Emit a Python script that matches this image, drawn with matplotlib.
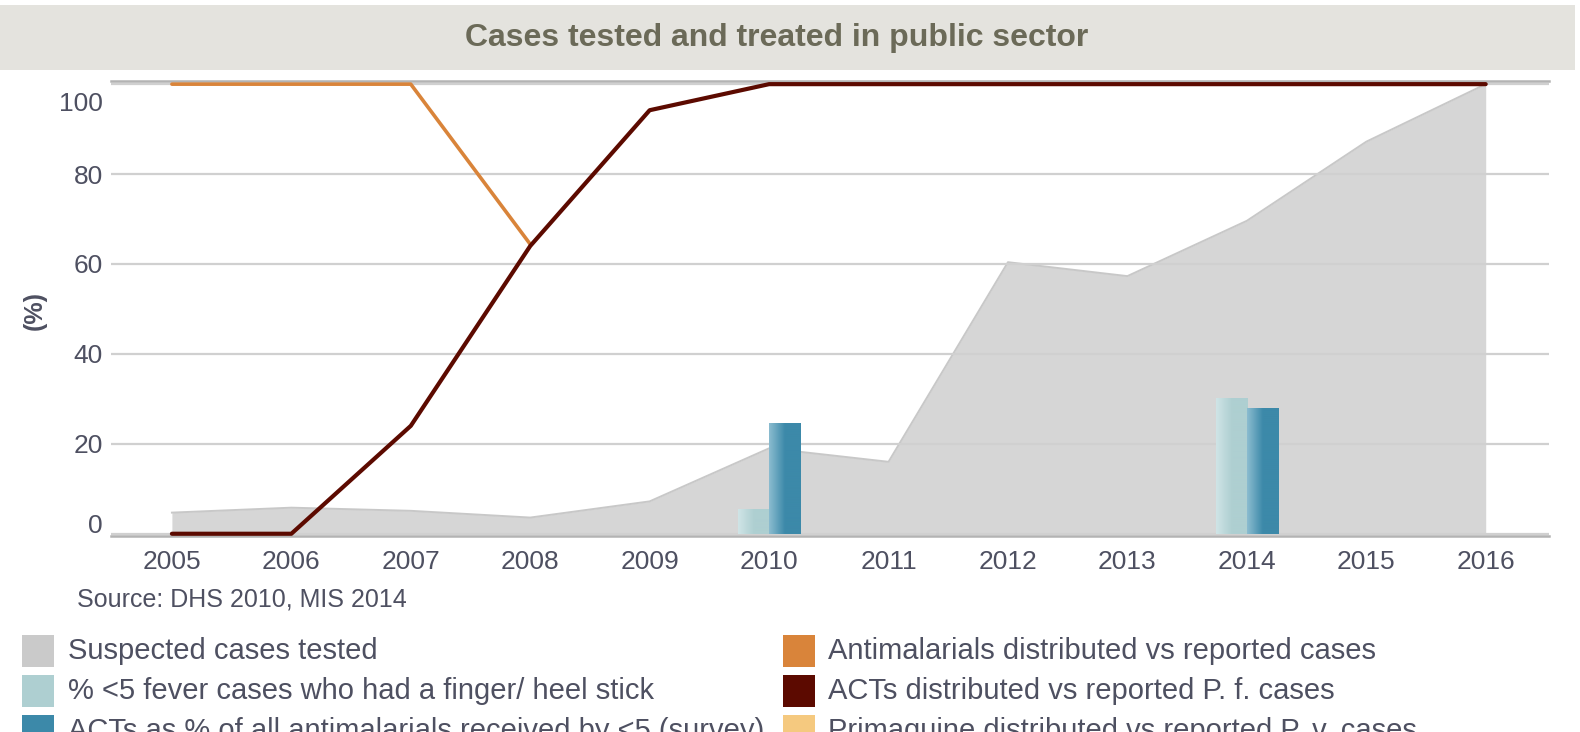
import matplotlib
matplotlib.use("Agg")
import matplotlib.pyplot as plt
import numpy as np
from matplotlib.patches import Rectangle
from matplotlib.colors import LinearSegmentedColormap
import matplotlib.transforms as mtransforms

# ---------------- data ----------------
years = [2005, 2006, 2007, 2008, 2009, 2010, 2011, 2012, 2013, 2014, 2015, 2016]
suspected_tested = [4.7, 5.8, 5.1, 3.6, 7.2, 19.0, 16.0, 60.4, 57.3, 69.6, 87.2, 100.0]
antimalarial_years = [2005, 2006, 2007, 2008]
antimalarials_vs_cases = [100.0, 100.0, 100.0, 64.4]
acts_vs_pf = [0.0, 0.0, 24.0, 64.0, 94.2, 100.0, 100.0, 100.0, 100.0, 100.0, 100.0, 100.0]
survey_years = [2010, 2014]
finger_stick = [5.6, 30.3]
acts_pct_survey = [24.7, 27.9]
yticks = [0, 20, 40, 60, 80, 100]

title = "Cases tested and treated in public sector"
source = "Source: DHS 2010, MIS 2014"
legend_left = ["Suspected cases tested",
               "% <5 fever cases who had a finger/ heel stick",
               "ACTs as % of all antimalarials received by <5 (survey)"]
legend_right = ["Antimalarials distributed vs reported cases",
                "ACTs distributed vs reported P. f. cases",
                "Primaquine distributed vs reported P. v. cases"]

# ---------------- styles ----------------
C_AREA = "#d6d6d6"
C_AREA_EDGE = "#c8c8c8"
C_LIGHT = "#aecfd1"
C_DARK = "#3c89a9"
C_ORANGE = "#d9843a"
C_ACT = "#5c0a00"
C_PRIM = "#f5c97f"
C_LEG_GRAY = "#cacaca"
C_TEXT = "#4e5061"
left_colors = [C_LEG_GRAY, C_LIGHT, C_DARK]
right_colors = [C_ORANGE, C_ACT, C_PRIM]

plt.rcParams['font.family'] = ['Liberation Sans', 'DejaVu Sans']

W, H = 1580, 732
fig = plt.figure(figsize=(W / 100, H / 100), dpi=100)


def fx(x):
    return x / W


def fy(y):
    return 1 - y / H


# title banner
fig.add_artist(Rectangle((0, fy(70)), fx(1575), (70 - 5) / H, transform=fig.transFigure,
                         facecolor="#e4e3de", edgecolor="none", zorder=0))
fig.text(fx(777), fy(38), title, ha="center", va="center", fontsize=23,
         fontweight="bold", color="#6b6a58")

ax = fig.add_axes([fx(111), fy(536), (1549 - 111) / W, (536 - 81) / H])

# area
ax.fill_between(years, suspected_tested, 0, color=C_AREA, linewidth=0, zorder=1)
ax.plot(years, suspected_tested, color=C_AREA_EDGE, lw=1.4, zorder=1.1)

# bars
bw = 0.26
xs = np.array(survey_years, dtype=float)
b1 = ax.bar(xs - bw / 2, finger_stick, width=bw, color=C_LIGHT, zorder=2, linewidth=0)
b2 = ax.bar(xs + bw / 2, acts_pct_survey, width=bw, color=C_DARK, zorder=2, linewidth=0)


def gradient(bars, c0, c1):
    cmap = LinearSegmentedColormap.from_list("g", [(0, c0), (0.5, c1), (1, c1)])
    grad = np.linspace(0, 1, 64).reshape(1, -1)
    for r in bars:
        x0, w, h = r.get_x(), r.get_width(), r.get_height()
        im = ax.imshow(grad, extent=[x0, x0 + w, 0, h], aspect="auto", cmap=cmap,
                       zorder=2.1, interpolation="bilinear")
        im.set_clip_path(r)


gradient(b1, "#cfe4e6", C_LIGHT)
gradient(b2, "#8bbccf", C_DARK)

# lines
ax.plot(antimalarial_years, antimalarials_vs_cases, color=C_ORANGE, lw=2.6,
        solid_capstyle="round", solid_joinstyle="round", zorder=4, clip_on=False)
ax.plot(years, acts_vs_pf, color=C_ACT, lw=3.0, solid_capstyle="round",
        solid_joinstyle="round", zorder=5, clip_on=False)

ax.set_xlim(2004.49, 2016.53)
ax.set_ylim(-0.5, 100.7)

# grid and spines
ax.set_yticks(yticks)
ax.set_xticks(years)
ax.yaxis.grid(True, color="#d0d0d0", lw=1.6)
ax.set_axisbelow(False)
ax.yaxis.set_zorder(1.5)
ax.xaxis.set_zorder(1.5)
for s in ["left", "right"]:
    ax.spines[s].set_visible(False)
for s in ["top", "bottom"]:
    ax.spines[s].set_color("#b3b3b3")
    ax.spines[s].set_linewidth(1.8)
    ax.spines[s].set_zorder(3)

ax.tick_params(axis="both", length=0, labelsize=19, labelcolor=C_TEXT)
ax.tick_params(axis="x", pad=10)
ax.tick_params(axis="y", pad=6)
ax.set_xticklabels([str(y) for y in years])
ax.set_yticklabels([str(v) for v in yticks])

for lab, v in zip(ax.get_yticklabels(), yticks):
    if v == 0:
        off = mtransforms.ScaledTranslation(0, 10 / 100, fig.dpi_scale_trans)
        lab.set_transform(lab.get_transform() + off)
    elif v == 100:
        off = mtransforms.ScaledTranslation(0, -17 / 100, fig.dpi_scale_trans)
        lab.set_transform(lab.get_transform() + off)

fig.text(fx(35), fy(310), "(%)", rotation=90, ha="center", va="center",
         fontsize=18, fontweight="bold", color=C_TEXT)

fig.text(fx(77), fy(600), source, ha="left", va="center", fontsize=18, color=C_TEXT)

# legend
rows = [651, 691, 731]
for i, (lab, col) in enumerate(zip(legend_left, left_colors)):
    y = rows[i]
    fig.add_artist(Rectangle((fx(22), fy(y + 16)), 32 / W, 32 / H, transform=fig.transFigure,
                             facecolor=col, edgecolor="none"))
    fig.text(fx(68), fy(y), lab, ha="left", va="center", fontsize=21, color=C_TEXT)
for i, (lab, col) in enumerate(zip(legend_right, right_colors)):
    y = rows[i]
    fig.add_artist(Rectangle((fx(783), fy(y + 16)), 32 / W, 32 / H, transform=fig.transFigure,
                             facecolor=col, edgecolor="none"))
    fig.text(fx(828), fy(y), lab, ha="left", va="center", fontsize=21, color=C_TEXT)

fig.savefig("out.png", dpi=100)
